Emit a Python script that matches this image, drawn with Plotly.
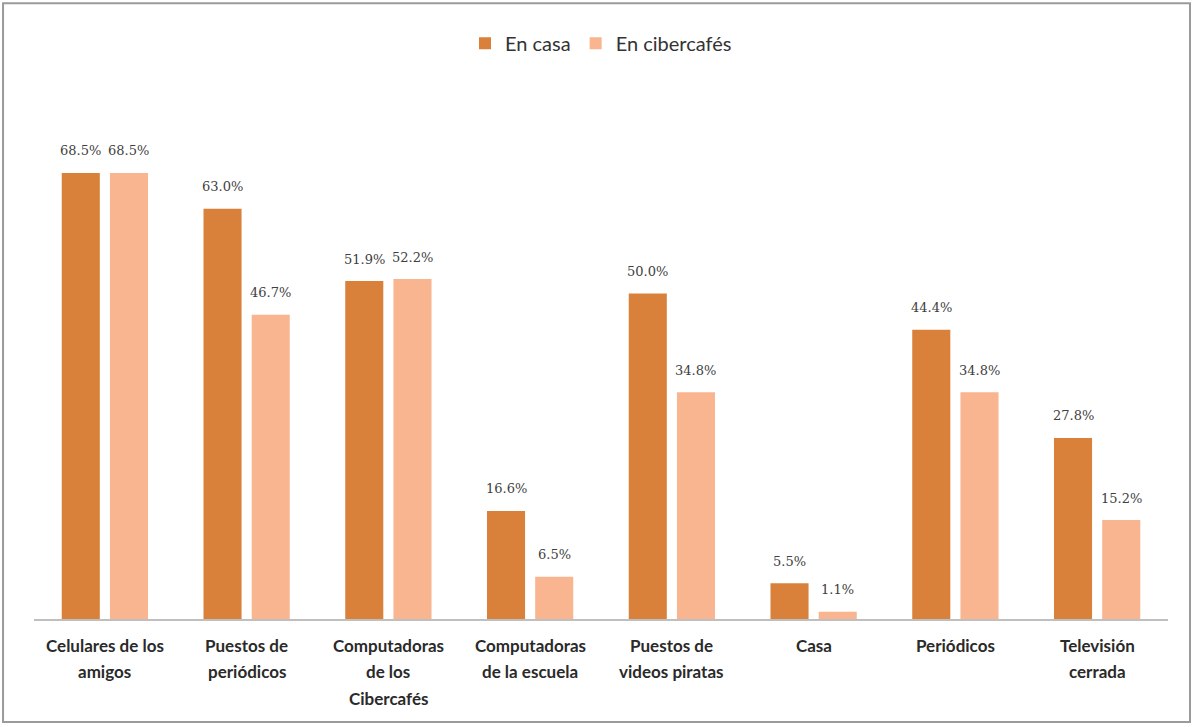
import plotly.graph_objects as go

categories = ["Celulares de los<br>amigos", "Puestos de<br>periódicos", "Computadoras<br>de los<br>Cibercafés",
              "Computadoras<br>de la escuela", "Puestos de<br>videos piratas", "Casa", "Periódicos",
              "Televisión<br>cerrada"]
en_casa = [68.5, 63.0, 51.9, 16.6, 50.0, 5.5, 44.4, 27.8]
en_ciber = [68.5, 46.7, 52.2, 6.5, 34.8, 1.1, 34.8, 15.2]
series_names = ["En casa", "En cibercafés"]
colors = ["#D9813B", "#F8B590"]

fig = go.Figure()
for name, vals, col in zip(series_names, [en_casa, en_ciber], colors):
    fig.add_trace(go.Bar(name=name, x=categories, y=vals, marker=dict(color=col, line=dict(width=0))))

ann = []
for vals, shift in [(en_casa, -24), (en_ciber, 24)]:
    for c, v in zip(categories, vals):
        ann.append(dict(x=c, y=v, text=f"{v:.1f}%", showarrow=False, xshift=shift, yshift=22,
                        font=dict(family="DejaVu Serif", size=13, color="#404040")))

# category labels, one annotation per line for wider line spacing
for c in categories:
    for i, line in enumerate(c.split("<br>")):
        ann.append(dict(x=c, y=0, yref="paper", text=line, showarrow=False, yanchor="middle",
                        yshift=-(26 + 26.5 * i),
                        font=dict(family="Lato", size=17, color="#2a2a2a", weight="bold")))

fig.update_layout(
    width=1194, height=727,
    paper_bgcolor="white", plot_bgcolor="white",
    margin=dict(l=34, r=26, t=98, b=108),
    barmode="group", bargap=0.32, bargroupgap=0.21,
    font=dict(family="Lato", color="#333333"),
    legend=dict(orientation="h", x=0.5, xanchor="center", y=1.105, yanchor="middle",
                font=dict(size=20, color="#333333"), traceorder="normal"),
    annotations=ann,
    shapes=[dict(type="rect", xref="paper", yref="paper", x0=-0.0273, x1=1.0194, y0=-0.1977, y1=1.182,
                 line=dict(color="#9A9A9A", width=2))],
)
fig.update_xaxes(showline=True, linecolor="#BFBFBF", linewidth=2, ticks="", showgrid=False,
                 showticklabels=False)
fig.update_yaxes(range=[0, 80], showgrid=False, showticklabels=False, zeroline=False)
fig.write_html("out.html", config={"displayModeBar": False},
               post_script="document.body.style.margin='0';")
